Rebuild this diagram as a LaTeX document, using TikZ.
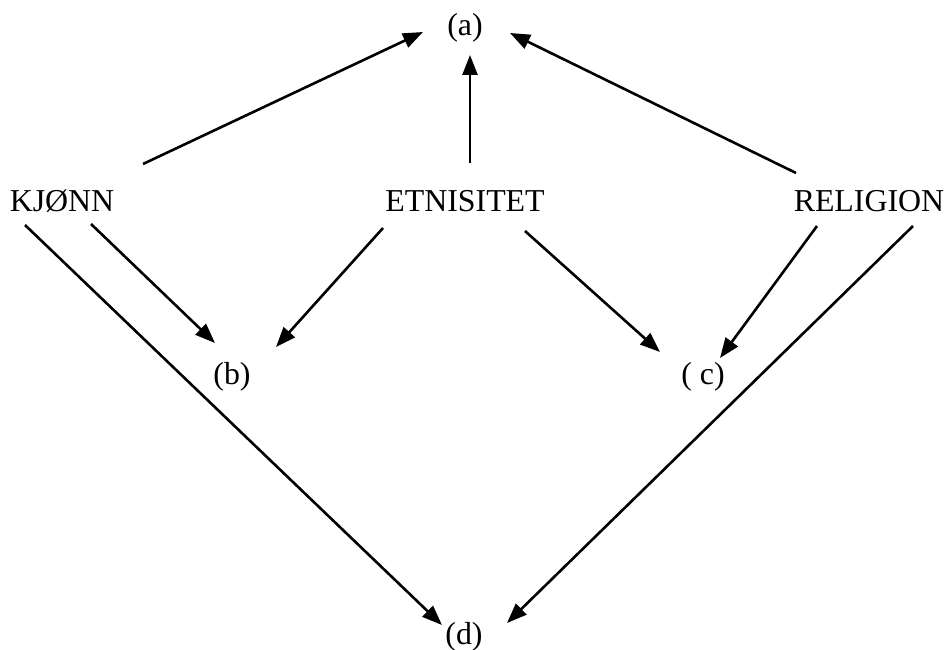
\documentclass[tikz,border=0pt]{standalone}
\usepackage{fontspec}
\setmainfont{Liberation Serif}
\usetikzlibrary{arrows.meta}
\begin{document}
\begin{tikzpicture}[x=1bp,y=-1bp,
  lbl/.style={font=\fontsize{32}{36}\selectfont, inner sep=0pt, anchor=base},
  arr/.style={line width=2.6bp, -{Triangle[length=20bp,width=15bp]}}]
\useasboundingbox (0,0) rectangle (949,650);
\node[lbl] (a) at (465,36) {(a)};
\node[lbl] (K) at (62,211) {KJØNN};
\node[lbl] (E) at (465,211) {ETNISITET};
\node[lbl] (R) at (869,211) {RELIGION};
\node[lbl] (b) at (232,384) {(b)};
\node[lbl] (c) at (703,384) {( c)};
\node[lbl] (d) at (464,644) {(d)};
\draw[arr] ([shift={(81,-47)}]K.base) -- ([shift={(-42,-4)}]a.base);
\draw[arr] ([shift={(5,-48)}]E.base) -- ([shift={(5,19)}]a.base);
\draw[arr] ([shift={(-73,-38)}]R.base) -- ([shift={(45,-3)}]a.base);
\draw[arr] ([shift={(29,13)}]K.base) -- ([shift={(-17,-41)}]b.base);
\draw[arr] ([shift={(-82,17)}]E.base) -- ([shift={(44,-37)}]b.base);
\draw[arr] ([shift={(60,20)}]E.base) -- ([shift={(-43,-32)}]c.base);
\draw[arr] ([shift={(-52,15)}]R.base) -- ([shift={(17,-26)}]c.base);
\draw[arr] ([shift={(-37,14)}]K.base) -- ([shift={(-22,-19)}]d.base);
\draw[arr] ([shift={(44,15)}]R.base) -- ([shift={(43,-21)}]d.base);
\end{tikzpicture}
\end{document}
